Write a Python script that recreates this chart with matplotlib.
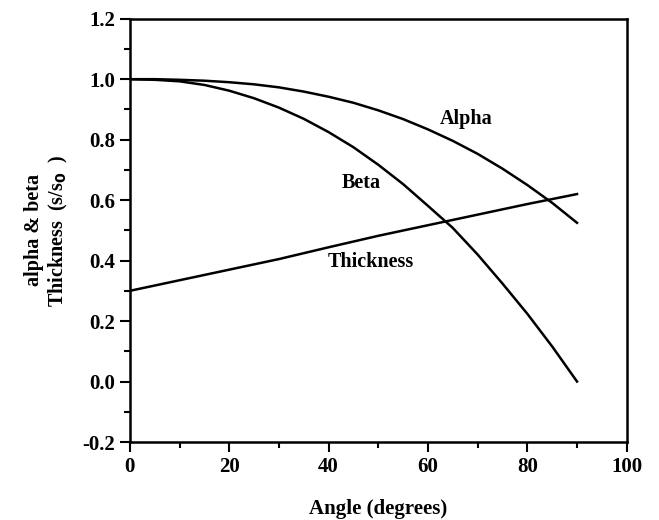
import numpy as np
import matplotlib.pyplot as plt
from matplotlib.ticker import MultipleLocator

# values
angle = [0, 5, 10, 15, 20, 25, 30, 35, 40, 45, 50, 55, 60, 65, 70, 75, 80, 85, 90]
alpha = [1.0, 1.0, 0.998, 0.995, 0.99, 0.983, 0.973, 0.959, 0.942, 0.922, 0.897,
         0.868, 0.834, 0.796, 0.753, 0.704, 0.650, 0.591, 0.525]
beta = [1.0, 0.998, 0.993, 0.981, 0.962, 0.937, 0.906, 0.869, 0.825, 0.775, 0.717,
        0.653, 0.581, 0.508, 0.42, 0.324, 0.224, 0.116, 0.0]

angle_thick = [0, 10, 20, 30, 40, 50, 60, 70, 80, 90]
thickness = [0.30, 0.335, 0.37, 0.405, 0.444, 0.482, 0.517, 0.552, 0.587, 0.62]

plt.rcParams['font.family'] = ['Liberation Serif', 'DejaVu Serif']
plt.rcParams['font.weight'] = 'bold'

fig = plt.figure(figsize=(6.59, 5.2), dpi=100)
ax = fig.add_axes([0.197, 0.150, 0.754, 0.814])

ax.plot(angle, alpha, color='black', lw=1.8)
ax.plot(angle, beta, color='black', lw=1.8)
ax.plot(angle_thick, thickness, color='black', lw=1.8)

ax.text(67.7, 0.868, 'Alpha', ha='center', va='center', fontsize=14.5, fontweight='bold')
ax.text(46.6, 0.657, 'Beta', ha='center', va='center', fontsize=14.5, fontweight='bold')
ax.text(48.6, 0.395, 'Thickness', ha='center', va='center', fontsize=14.5, fontweight='bold')

ax.set_xlim(0, 100)
ax.set_ylim(-0.2, 1.2)
ax.xaxis.set_major_locator(MultipleLocator(20))
ax.xaxis.set_minor_locator(MultipleLocator(10))
ax.yaxis.set_major_locator(MultipleLocator(0.2))
ax.yaxis.set_minor_locator(MultipleLocator(0.1))
ax.yaxis.set_major_formatter(plt.FuncFormatter(lambda v, p: f'{v:.1f}'))

ax.tick_params(which='major', direction='out', length=7, width=1.5, labelsize=15)
ax.tick_params(which='minor', direction='out', length=4, width=1.5)
for s in ax.spines.values():
    s.set_linewidth(1.8)

ax.set_xlabel('Angle (degrees)', fontsize=15, fontweight='bold', labelpad=16)
ax.set_ylabel('alpha & beta\nThickness  (s/s$_\\mathbf{0}$  )', fontsize=14.5,
              fontweight='bold', labelpad=9, linespacing=1.2)

fig.savefig('out.png', dpi=100)
